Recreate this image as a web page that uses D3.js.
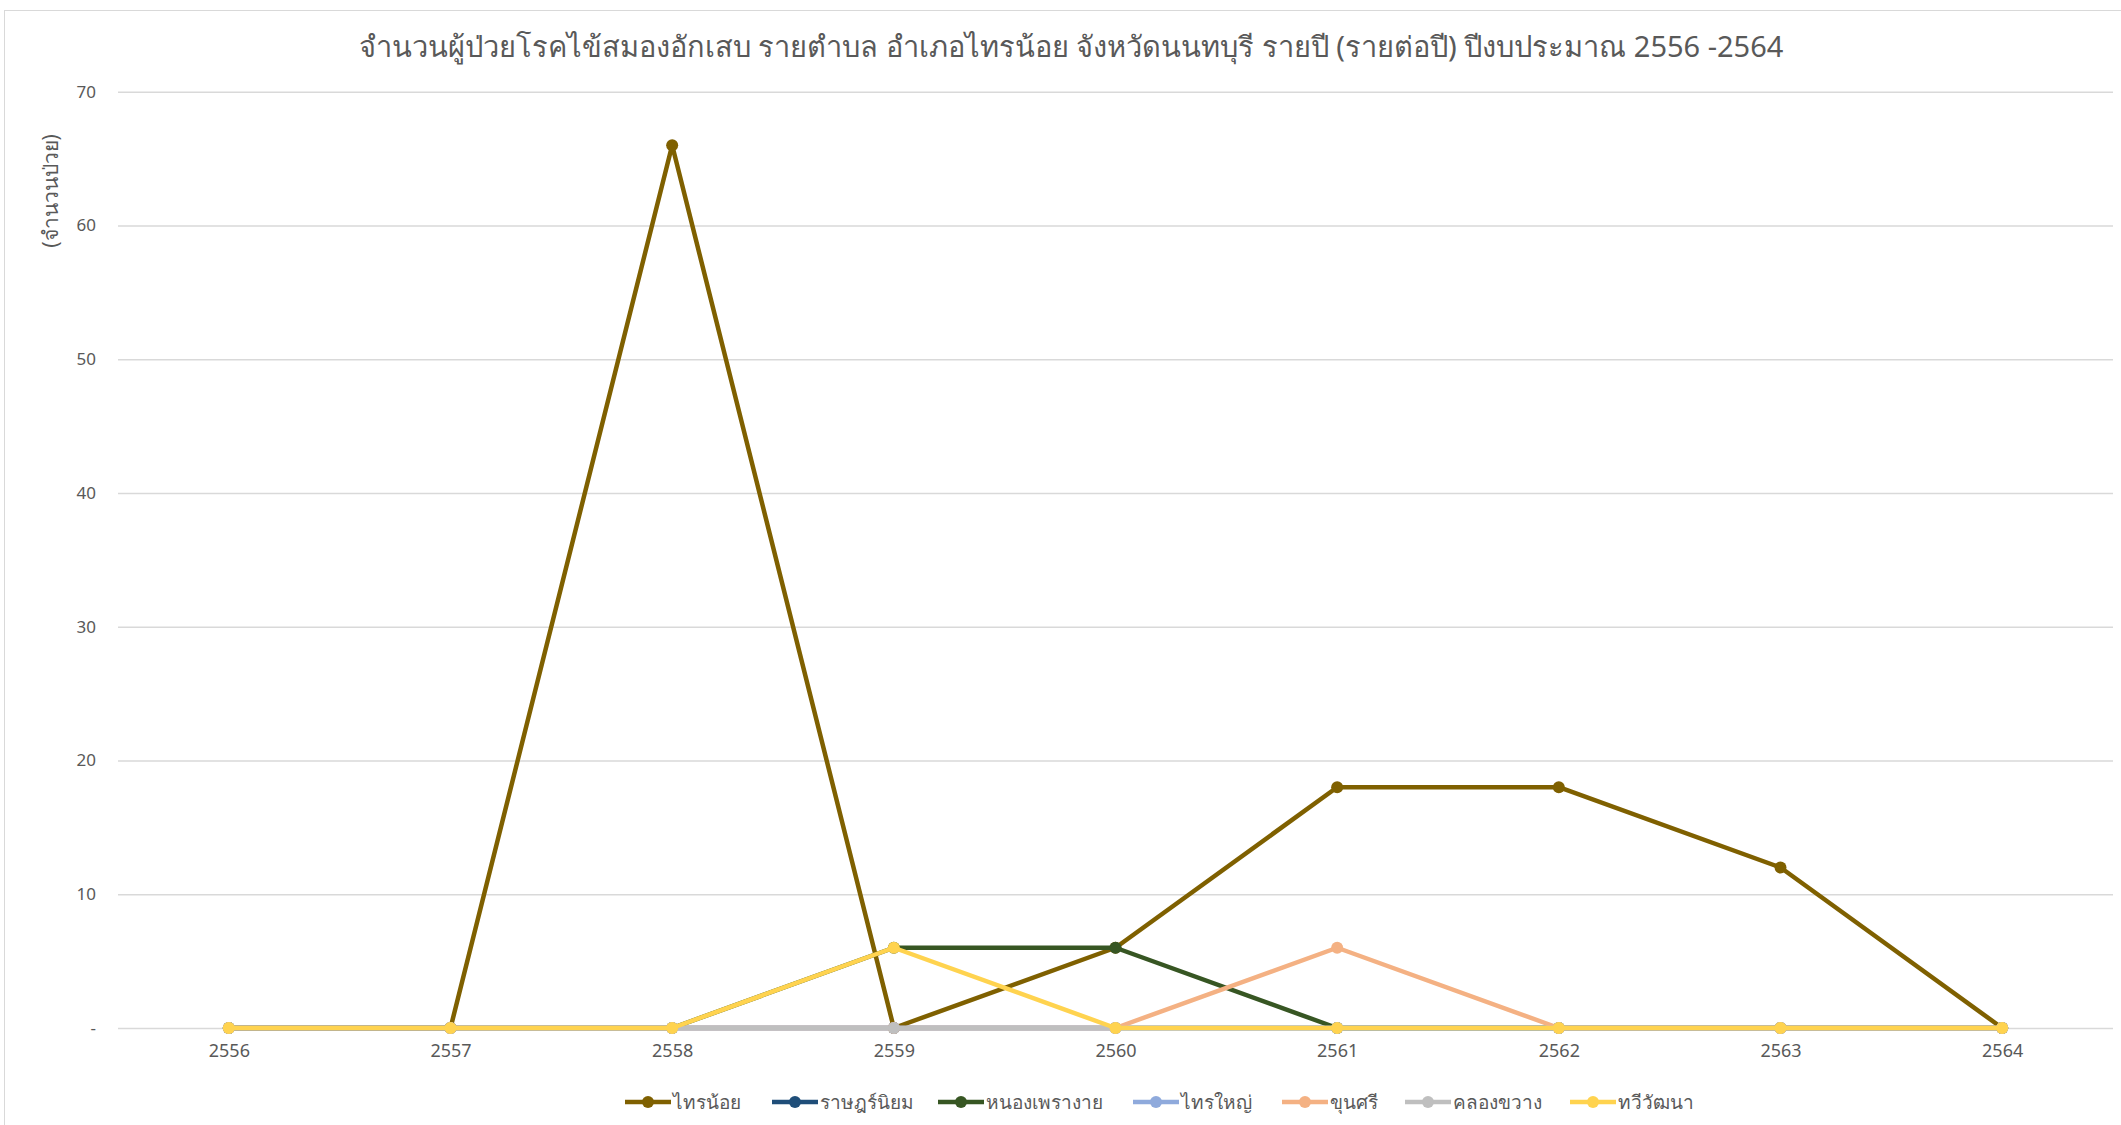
<!DOCTYPE html>
<html>
<head>
<meta charset="utf-8">
<script src="https://cdn.jsdelivr.net/npm/d3@7"></script>
<style>
  body { margin: 0; background: #fff; }
  text { font-family: "Noto Sans", "DejaVu Sans", sans-serif; }
</style>
</head>
<body>
<div id="chart"></div>
<script>
var years = ["2556", "2557", "2558", "2559", "2560", "2561", "2562", "2563", "2564"];

var seriesNames = ["ไทรน้อย", "ราษฎร์นิยม", "หนองเพรางาย", "ไทรใหญ่", "ขุนศรี", "คลองขวาง", "ทวีวัฒนา"];

var sainoi     = [0, 0, 66, 0, 6, 18, 18, 12, 0];
var ratniyom   = [0, 0, 0, 0, 0, 0, 0, 0, 0];
var nongpraoA  = [0, 0, 0, 6, 6, 0, 0, 0, 0];
var saiyai     = [0, 0, 0, 0, 0, 0, 0, 0, 0];
var khunsri    = [0, 0, 0, 0, 0, 6, 0, 0, 0];
var khlongkhwang = [0, 0, 0, 0, 0, 0, 0, 0, 0];
var thawiwatthana = [0, 0, 0, 6, 0, 0, 0, 0, 0];

var yTicks = [0, 10, 20, 30, 40, 50, 60, 70];

var colors = ["#7F6000", "#1F4E79", "#375623", "#8FAADC", "#F4B183", "#BFBFBF", "#FFD34F"];

var allSeries = [sainoi, ratniyom, nongpraoA, saiyai, khunsri, khlongkhwang, thawiwatthana];

var width = 2121, height = 1125;
var plot = {left: 118, right: 2113, top: 91.7, bottom: 1028};

var svg = d3.select("#chart")
    .append("svg")
    .attr("width", width)
    .attr("height", height);

// chart border
svg.append("rect")
    .attr("x", 4.5)
    .attr("y", 10.5)
    .attr("width", 2130)
    .attr("height", 1130)
    .attr("fill", "none")
    .attr("stroke", "#D9D9D9")
    .attr("stroke-width", 1);

svg.append("text")
    .attr("x", 1071)
    .attr("y", 57)
    .attr("text-anchor", "middle")
    .attr("font-size", "29px")
    .attr("fill", "#595959")
    .text("จำนวนผู้ป่วยโรคไข้สมองอักเสบ รายตำบล อำเภอไทรน้อย จังหวัดนนทบุรี รายปี (รายต่อปี) ปีงบประมาณ 2556 -2564");

var x = d3.scalePoint().domain(years).range([plot.left, plot.right]).padding(0.5);
var y = d3.scaleLinear().domain([0, 70]).range([plot.bottom, plot.top]);

// gridlines
svg.append("g")
    .attr("transform", "translate(" + plot.left + ",0)")
    .call(d3.axisLeft(y).tickValues(yTicks).tickSize(-(plot.right - plot.left)).tickFormat(""))
    .call(function(g){ g.select(".domain").remove(); })
    .selectAll("line")
    .attr("stroke", "#D9D9D9")
    .attr("stroke-width", 1.5);

// y tick labels
var yAxis = svg.append("g")
    .attr("transform", "translate(" + plot.left + ",0)")
    .call(d3.axisLeft(y).tickValues(yTicks).tickSize(0).tickPadding(22)
        .tickFormat(function(d){ return d === 0 ? "-" : d; }));
yAxis.select(".domain").remove();
yAxis.selectAll("text")
    .attr("font-size", "17px")
    .attr("fill", "#595959")
    .style("font-family", "\"Noto Sans\", sans-serif");

// x tick labels
var xAxis = svg.append("g")
    .attr("transform", "translate(0," + plot.bottom + ")")
    .call(d3.axisBottom(x).tickSize(0).tickPadding(16));
xAxis.select(".domain").remove();
xAxis.selectAll("text")
    .attr("font-size", "18px")
    .attr("fill", "#595959")
    .style("font-family", "\"Noto Sans\", sans-serif");

// y axis title
svg.append("text")
    .attr("transform", "translate(58,191) rotate(-90)")
    .attr("text-anchor", "middle")
    .attr("font-size", "21px")
    .attr("fill", "#595959")
    .text("(จำนวนป่วย)");

var line = d3.line()
    .x(function(d, i){ return x(years[i]); })
    .y(function(d){ return y(d); });

allSeries.forEach(function(vals, k){
    var g = svg.append("g");
    g.append("path")
        .datum(vals)
        .attr("d", line)
        .attr("fill", "none")
        .attr("stroke", colors[k])
        .attr("stroke-width", 4.5)
        .attr("stroke-linejoin", "round");
    g.selectAll("circle")
        .data(vals)
        .enter()
        .append("circle")
        .attr("cx", function(d, i){ return x(years[i]); })
        .attr("cy", function(d){ return y(d); })
        .attr("r", 6)
        .attr("fill", colors[k]);
});

// legend
var legendX = [625, 772, 938, 1133, 1282, 1405, 1570];
var legend = svg.selectAll(".legendItem")
    .data(seriesNames)
    .enter()
    .append("g")
    .attr("class", "legendItem")
    .attr("transform", function(d, i){ return "translate(" + legendX[i] + ",1102)"; });
legend.append("line")
    .attr("x1", 0).attr("x2", 46)
    .attr("y1", 0).attr("y2", 0)
    .attr("stroke", function(d, i){ return colors[i]; })
    .attr("stroke-width", 4.5);
legend.append("circle")
    .attr("cx", 23).attr("cy", 0).attr("r", 6)
    .attr("fill", function(d, i){ return colors[i]; });
legend.append("text")
    .attr("x", 48)
    .attr("y", 0)
    .attr("dy", "0.35em")
    .attr("font-size", "19px")
    .attr("fill", "#595959")
    .text(function(d){ return d; });
</script>
</body>
</html>
